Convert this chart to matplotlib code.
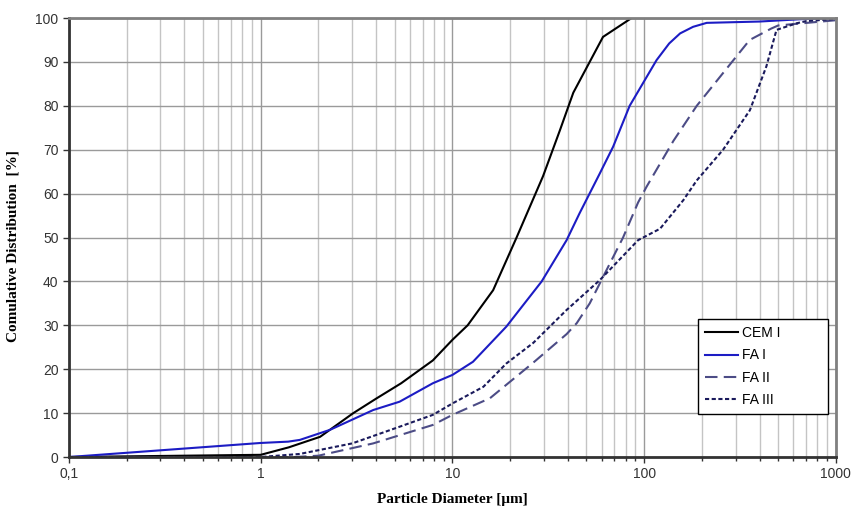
import matplotlib
matplotlib.use("Agg")
import matplotlib.pyplot as plt
from matplotlib.ticker import FixedLocator, LogLocator, NullFormatter

# Data (particle size in µm, cumulative %)
cem_x = [0.1, 1, 1.4, 2.04, 3.04, 4, 5.4, 7.9, 10, 12, 16.3, 21.6, 29.7, 36.4, 42.7, 61, 86, 1000]
cem_y = [0, 0.5, 2.2, 4.6, 10, 13.3, 16.8, 22, 26.7, 30, 38, 50, 64, 74.5, 83, 95.7, 100, 100]

fa1_x = [0.1, 1, 1.39, 1.6, 2.3, 3.86, 5.3, 7.9, 10, 12.8, 19.1, 29.2, 39.4, 46, 58.7, 68.9, 84, 116, 135, 154, 180, 212, 400, 700, 1000]
fa1_y = [0, 3.2, 3.5, 3.9, 6.2, 10.7, 12.6, 16.8, 18.7, 21.7, 29.7, 40, 49.4, 55.5, 64.6, 70.7, 80, 90.4, 94.2, 96.5, 98, 98.9, 99.2, 99.8, 100]

fa2_x = [0.1, 1.5, 2, 3.86, 7.9, 10, 15.7, 26.4, 39.4, 44.5, 52, 61, 77.6, 93, 103, 142, 188, 292, 355, 460, 500, 1000]
fa2_y = [0, 0, 0.3, 3.1, 7.3, 9.6, 13.4, 21.5, 28, 30.5, 35, 41, 50, 58, 61.6, 72, 80, 90.4, 95, 97.6, 98.3, 99.5]

fa3_x = [0.1, 1, 1.6, 3, 5.3, 7.9, 10, 14.5, 19.1, 26.4, 39.4, 58.7, 93, 121, 160, 188, 258, 356, 434, 490, 624, 700, 1000]
fa3_y = [0, 0, 0.7, 3.1, 6.9, 9.6, 12.2, 16, 21.3, 26, 33.5, 40.3, 49.4, 52, 58.5, 63, 70, 79, 89, 97.3, 98.8, 99.3, 99.8]

x_ticks = [0.1, 1, 10, 100, 1000]
x_tick_labels = ["0,1", "1", "10", "100", "1000"]
y_ticks = list(range(0, 101, 10))

fig = plt.figure(figsize=(8.54, 5.15), dpi=100)
ax = fig.add_axes([0.0808, 0.1126, 0.898, 0.8524])

ax.plot(cem_x, cem_y, color="black", lw=1.5, label="CEM I")
ax.plot(fa1_x, fa1_y, color="#1c1cc4", lw=1.5, label="FA I")
ax.plot(fa2_x, fa2_y, color="#4c4c86", lw=1.5, dashes=(6, 3), label="FA II")
ax.plot(fa3_x, fa3_y, color="#1a1a5c", lw=1.5, dashes=(2, 1.2), label="FA III")

ax.set_xscale("log")
ax.set_xlim(0.1, 1000)
ax.set_ylim(0, 100)
ax.xaxis.set_major_locator(FixedLocator(x_ticks))
ax.set_xticklabels(x_tick_labels)
ax.xaxis.set_minor_locator(LogLocator(base=10, subs=range(2, 10)))
ax.xaxis.set_minor_formatter(NullFormatter())
ax.set_yticks(y_ticks)

# grid like the spreadsheet original
ax.grid(which="major", axis="both", color="#9a9a9a", lw=1)
ax.grid(which="minor", axis="x", color="#c4c4c4", lw=1)
ax.set_axisbelow(True)

for side in ["left", "bottom"]:
    ax.spines[side].set_color("#333333")
    ax.spines[side].set_linewidth(2)
for side in ["top", "right"]:
    ax.spines[side].set_color("#808080")
    ax.spines[side].set_linewidth(2)

ax.tick_params(axis="both", which="major", labelsize=10, colors="#333333", length=4, width=1)
ax.tick_params(axis="x", which="minor", length=3, width=1, colors="#333333")
ax.tick_params(axis="x", pad=3)
for lbl in ax.get_xticklabels() + ax.get_yticklabels():
    lbl.set_family("Liberation Sans")
    lbl.set_color("#333333")

ax.set_xlabel("Particle Diameter [μm]", family="Liberation Serif", fontweight="bold", fontsize=11)
ax.set_ylabel("Comulative Distribution  [%]", family="Liberation Serif", fontweight="bold", fontsize=11)
ax.xaxis.set_label_coords(0.4995, -0.082)
ax.yaxis.set_label_coords(-0.064, 0.48)

leg = ax.legend(loc="lower left", bbox_to_anchor=(0.82, 0.098, 0.17, 0.219), mode="expand",
                prop={"family": "Liberation Sans", "size": 10}, fancybox=False, framealpha=1,
                edgecolor="black", handlelength=2.4, handletextpad=0.3, labelspacing=0.6,
                borderaxespad=0, borderpad=0.5)
leg.get_frame().set_linewidth(1)

fig.savefig("out.png", dpi=100)
